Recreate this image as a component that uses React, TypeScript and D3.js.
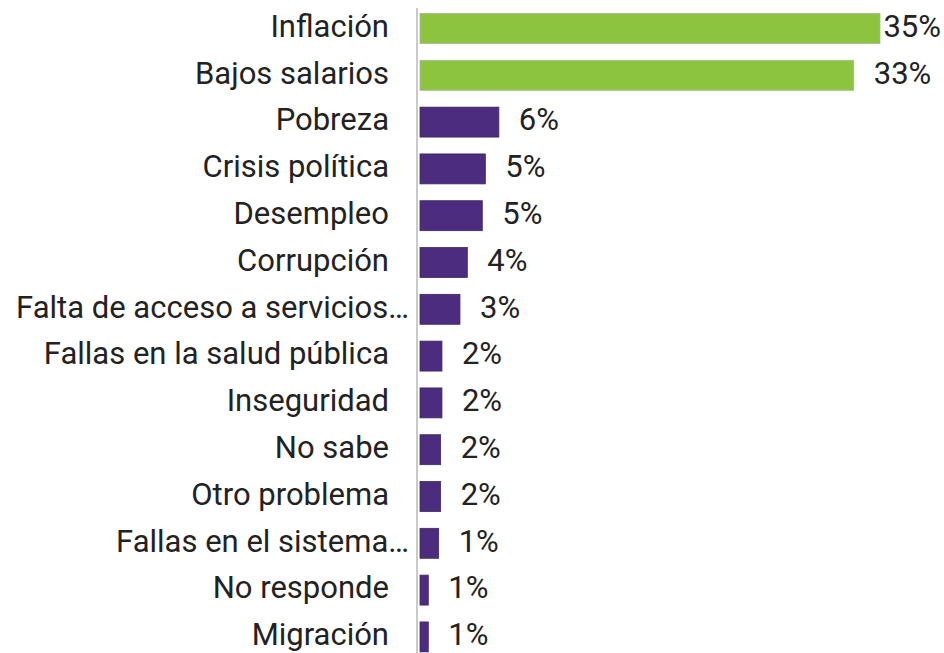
import React, { useEffect, useRef } from "react";
import * as d3 from "d3";

const categories = [
  "Inflación",
  "Bajos salarios",
  "Pobreza",
  "Crisis política",
  "Desempleo",
  "Corrupción",
  "Falta de acceso a servicios…",
  "Fallas en la salud pública",
  "Inseguridad",
  "No sabe",
  "Otro problema",
  "Fallas en el sistema…",
  "No responde",
  "Migración",
];
const values = [35, 33, 6.0, 4.97, 4.74, 3.6, 3.04, 1.67, 1.67, 1.57, 1.57, 1.42, 0.63, 0.63];
const valueLabels = ["35%", "33%", "6%", "5%", "5%", "4%", "3%", "2%", "2%", "2%", "2%", "1%", "1%", "1%"];
const highlighted = [true, true, false, false, false, false, false, false, false, false, false, false, false, false];

const W = 944;
const H = 653;

export default function App() {
  const ref = useRef<SVGSVGElement | null>(null);

  useEffect(() => {
    const svg = d3.select(ref.current);
    svg.selectAll("*").remove();

    const x0 = 420;
    const x = d3.scaleLinear().domain([0, 35]).range([x0, 880]);
    const y = d3
      .scaleBand<string>()
      .domain(categories)
      .range([5.1, 660.3])
      .paddingInner(0.36)
      .paddingOuter(0.18);

    const data = categories.map((c, i) => ({
      c,
      v: values[i],
      lab: valueLabels[i],
      hi: highlighted[i],
    }));

    const font = "Roboto, 'Noto Sans', sans-serif";

    svg
      .append("line")
      .attr("x1", 417)
      .attr("x2", 417)
      .attr("y1", 8)
      .attr("y2", H)
      .attr("stroke", "#b8b8b8")
      .attr("stroke-width", 1.5);

    svg
      .selectAll("rect.bar")
      .data(data)
      .join("rect")
      .attr("class", "bar")
      .attr("x", x(0))
      .attr("y", (d) => y(d.c)!)
      .attr("width", (d) => x(d.v) - x(0))
      .attr("height", y.bandwidth())
      .attr("fill", (d) => (d.hi ? "#8dc43f" : "#4b2c7e"))
      .attr("stroke", (d) => (d.hi ? "#a9b59a" : "#3d2a5e"))
      .attr("stroke-width", 0.8);

    svg
      .selectAll("text.cat")
      .data(data)
      .join("text")
      .attr("class", "cat")
      .attr("x", (d) => (d.c.endsWith("…") ? 409 : 389))
      .attr("y", (d) => y(d.c)! + y.bandwidth() / 2)
      .attr("dy", "0.27em")
      .attr("text-anchor", "end")
      .attr("font-family", font)
      .attr("font-size", 31)
      .attr("fill", "#222")
      .text((d) => d.c);

    const vl = svg
      .selectAll("text.val")
      .data(data)
      .join("text")
      .attr("class", "val")
      .attr("x", (d) => x(d.v) + 20)
      .attr("y", (d) => y(d.c)! + y.bandwidth() / 2)
      .attr("dy", "0.27em")
      .attr("font-family", font)
      .attr("font-size", 31)
      .attr("fill", "#222")
      .text((d) => d.lab);

    vl.each(function (d) {
      const el = this as SVGTextElement;
      const w = el.getComputedTextLength();
      const maxRight = 941;
      if (x(d.v) + 20 + w > maxRight) {
        d3.select(el).attr("x", Math.max(x(d.v) + 2, maxRight - w));
      }
    });
  }, []);

  return (
    <svg
      ref={ref}
      width={W}
      height={H}
      style={{ position: "absolute", left: 0, top: 0, background: "#fff" }}
    />
  );
}
